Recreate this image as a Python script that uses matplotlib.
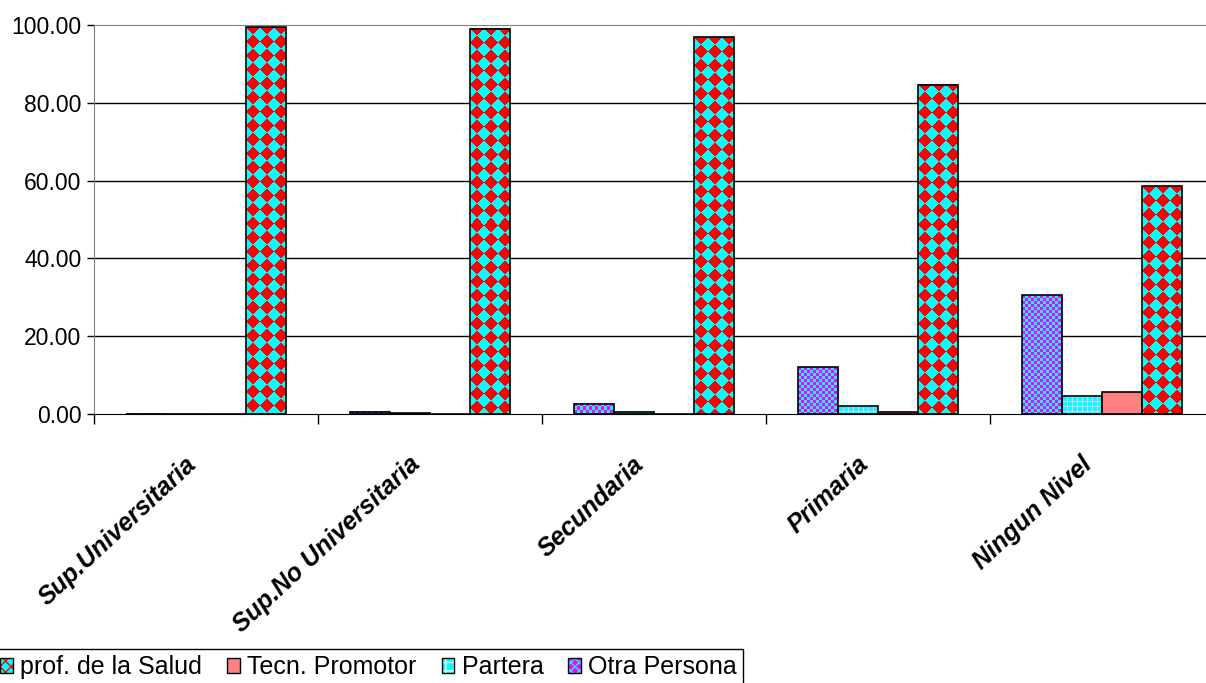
import matplotlib
matplotlib.use('Agg')
import matplotlib.pyplot as plt
from matplotlib.patches import Patch
from matplotlib.legend_handler import HandlerTuple
import numpy as np

# Data
niveles = ['Sup.Universitaria', 'Sup.No Universitaria', 'Secundaria', 'Primaria', 'Ningun Nivel']
otra_persona = [0.1, 0.6, 2.6, 12.0, 30.5]
partera = [0.1, 0.2, 0.6, 2.0, 4.5]
tecn_promotor = [0.0, 0.1, 0.1, 0.6, 5.6]
prof_salud = [99.4, 99.1, 96.8, 84.6, 58.6]
y_ticks = [0, 20, 40, 60, 80, 100]

CYAN = (0.0, 1.0, 1.0)
RED = (1.0, 0.0, 0.0)
MAGENTA = (1.0, 0.0, 1.0)
LAVENDER = (0.82, 0.82, 1.0)
SALMON = '#ff8080'


def texture(kind, h, w):
    """Build an RGB pattern (h x w pixels) like the old Excel fills."""
    yy, xx = np.mgrid[0:h, 0:w]
    img = np.empty((h, w, 3))
    if kind == 'diamond':
        p = 14
        m = (np.floor((xx + yy) / p) + np.floor((xx - yy) / p)) % 2 == 0
        img[:] = CYAN
        img[m] = RED
    elif kind == 'checker':
        m = ((xx // 3) + (yy // 3)) % 2 == 0
        img[:] = CYAN
        img[m] = MAGENTA
    else:  # grid
        m = (xx % 5 == 0) | (yy % 5 == 0)
        img[:] = CYAN
        img[m] = LAVENDER
    return img


plt.rcParams['font.family'] = ['Liberation Sans', 'DejaVu Sans']

fig = plt.figure(figsize=(12.06, 6.83), dpi=100)
ax = fig.add_axes([94 / 1206, 1 - 414 / 683, 1120 / 1206, 389 / 683])

x = np.arange(len(niveles))
w = 40 / 224
ax.set_xlim(-0.5, len(niveles) - 0.5)
ax.set_ylim(0, 100)

series = [
    (otra_persona, 'checker'),
    (partera, 'grid'),
    (tecn_promotor, None),
    (prof_salud, 'diamond'),
]

for k, (vals, kind) in enumerate(series):
    pos = x + (k - 1.5) * w
    if kind is None:
        ax.bar(pos, vals, width=w, color=SALMON, edgecolor='black',
               linewidth=1.2, zorder=3)
        continue
    bars = ax.bar(pos, vals, width=w, fill=False, edgecolor='black',
                  linewidth=1.2, zorder=3)
    for b in bars:
        x0, x1 = b.get_x(), b.get_x() + b.get_width()
        hv = b.get_height()
        p0 = ax.transData.transform((x0, 0))
        p1 = ax.transData.transform((x1, hv))
        wpx = max(1, int(round(p1[0] - p0[0])))
        hpx = max(1, int(round(p1[1] - p0[1])))
        ax.imshow(texture(kind, hpx, wpx), extent=(x0, x1, 0, hv),
                  aspect='auto', interpolation='nearest', zorder=2)

ax.set_xlim(-0.5, len(niveles) - 0.5)
ax.set_ylim(0, 100)

# gridlines
for yv in y_ticks[1:-1]:
    ax.axhline(yv, color='black', linewidth=1, zorder=1)

ax.set_yticks(y_ticks)
ax.set_yticklabels([f'{v:.2f}' for v in y_ticks], fontsize=16.5)
ax.tick_params(axis='y', direction='out', length=5, width=1, pad=4,
               color='black')

ax.set_xticks(np.arange(-0.5, len(niveles)), minor=False)
ax.set_xticklabels([])
ax.tick_params(axis='x', direction='out', length=7, width=1, color='black')

for i, lab in enumerate(niveles):
    ax.text(i - 0.06, -0.12, lab, transform=ax.get_xaxis_transform(),
            rotation=43, rotation_mode='anchor', ha='right', va='center',
            fontsize=18, fontweight='bold', fontstyle='italic')

ax.spines['left'].set_color('#808080')
ax.spines['top'].set_color('#808080')
ax.spines['bottom'].set_color('black')
ax.spines['right'].set_visible(False)

# legend
h_prof = (Patch(facecolor=CYAN, linewidth=0),
          Patch(facecolor='none', edgecolor=RED, hatch='xxx', linewidth=0),
          Patch(facecolor='none', edgecolor='black', linewidth=1))
h_tecn = Patch(facecolor=SALMON, edgecolor='black', linewidth=1)
h_part = (Patch(facecolor=CYAN, linewidth=0),
          Patch(facecolor='none', edgecolor='white', hatch='++', linewidth=0),
          Patch(facecolor='none', edgecolor='black', linewidth=1))
h_otra = (Patch(facecolor=MAGENTA, linewidth=0),
          Patch(facecolor='none', edgecolor=CYAN, hatch='xxxx', linewidth=0),
          Patch(facecolor='none', edgecolor='black', linewidth=1))

leg = fig.legend([h_prof, h_tecn, h_part, h_otra],
                 ['prof. de la Salud', 'Tecn. Promotor', 'Partera', 'Otra Persona'],
                 handler_map={tuple: HandlerTuple(ndivide=1)},
                 loc='upper left', bbox_to_anchor=(-6 / 1206, 1 - 649 / 683),
                 ncol=4, fontsize=18, frameon=True, fancybox=False,
                 edgecolor='black', framealpha=1, handlelength=0.5,
                 handleheight=0.5, handletextpad=0.3, columnspacing=1.0,
                 borderpad=0.25, borderaxespad=0)
leg.get_frame().set_linewidth(1)

fig.savefig('out.png', dpi=100)
